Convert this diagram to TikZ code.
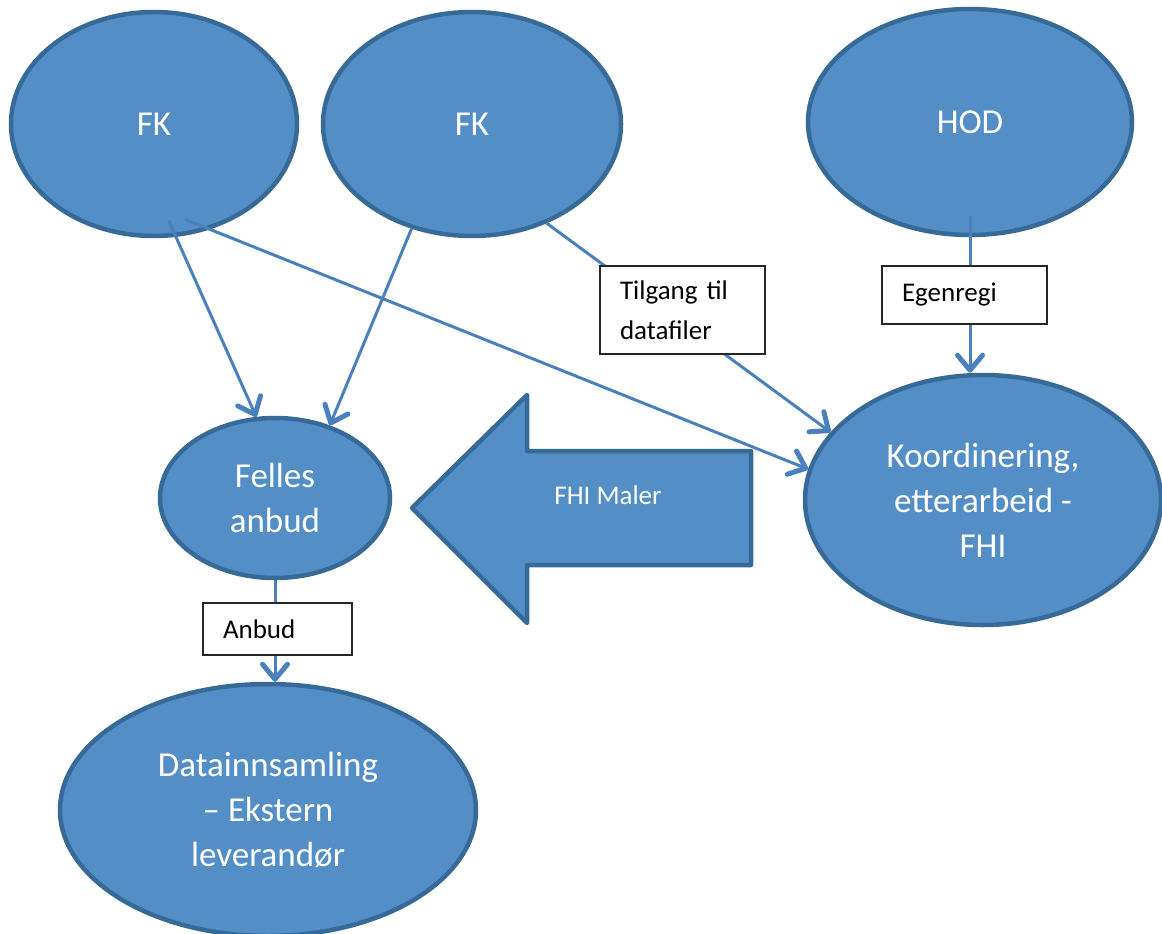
\documentclass[tikz,border=0pt]{standalone}
\usepackage{fontspec}
\setmainfont{Carlito}
\usetikzlibrary{shapes.geometric,arrows.meta}

\definecolor{ellfill}{RGB}{84,142,199}
\definecolor{ellline}{RGB}{56,106,152}
\definecolor{connblue}{RGB}{74,128,190}

\tikzset{
  ell/.style={ellipse, draw=ellline, fill=ellfill, line width=4.5pt, text=white,
    align=center, inner sep=0pt, font=\fontsize{35}{45}\selectfont},
  lbl/.style={draw=black!85, line width=1.3pt, fill=white, align=left,
    inner xsep=20pt, inner ysep=0pt, font=\fontsize{27}{40}\selectfont},
  conn/.style={draw=connblue, line width=3pt,
    -{Straight Barb[length=15pt,width=25pt,line width=5pt,round]}},
  bigarrow/.style={draw=ellline, fill=ellfill, line width=4.5pt, line join=round},
}

\begin{document}
\begin{tikzpicture}[x=1pt,y=1pt,yscale=-1,xscale=1]
\useasboundingbox (0,0) rectangle (1162,934);

%Shape: Ellipse
\node[ell, minimum width=286, minimum height=224] (fk1) at (154,124) {FK};
%Shape: Ellipse
\node[ell, minimum width=298, minimum height=224] (fk2) at (472,124) {FK};
%Shape: Ellipse
\node[ell, minimum width=324, minimum height=226] (hod) at (970,122) {HOD};
%Shape: Ellipse
\node[ell, minimum width=230, minimum height=160] (felles) at (275,498) {Felles\\anbud};
%Shape: Ellipse
\node[ell, minimum width=356, minimum height=250] (koord) at (983,500) {Koordinering,\\etterarbeid -\\FHI};
%Shape: Ellipse
\node[ell, minimum width=416, minimum height=252] (data) at (268,810) {Datainnsamling\\– Ekstern\\leverandør};

%Shape: Left Arrow
\draw[bigarrow] (412,508) -- (527,395) -- (527,451) -- (751,451) -- (751,565) -- (527,565) -- (527,623) -- cycle;
\node[text=white, font=\fontsize{27}{32}\selectfont] (maler) at (608,495) {FHI Maler};

%Straight Lines
\draw[conn, shorten <=-18pt] (fk1.281) -- (felles.103);
\draw[conn, shorten <=-27pt] (fk1.298) -- (koord.170);
\draw[conn] (fk2.240) -- (felles.53);
\draw[conn] (fk2.307) -- (koord.156);
\draw[conn, shorten <=-21pt] (hod.south) -- (hod.south |- koord.north);
\draw[conn] (felles.south) -- (felles.south |- data.north);

%Text boxes
\node[lbl, minimum height=88, text width=125] (tilgang) at (682.5,310) {Tilgang til\\datafiler};
\node[lbl, minimum height=58, text width=125] (egenregi) at (964.5,295) {Egenregi};
\node[lbl, minimum height=52, text width=109] (anbud) at (277.5,629) {Anbud};

\end{tikzpicture}
\end{document}
